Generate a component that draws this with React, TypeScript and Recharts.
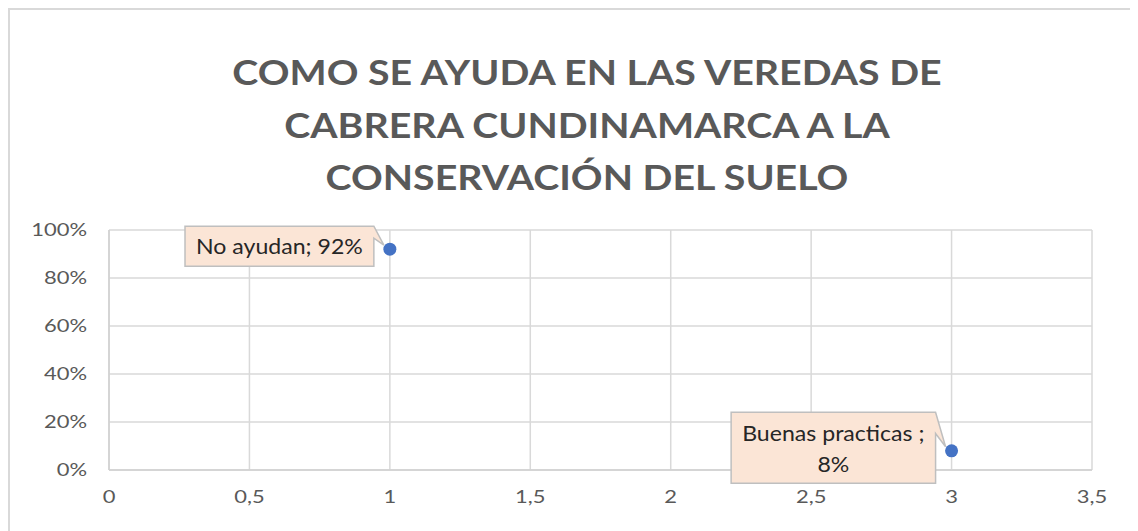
import React from 'react';
import { ScatterChart, Scatter, XAxis, YAxis, CartesianGrid } from 'recharts';

const categories = ['No ayudan', 'Buenas practicas '];
const xValues = [1, 3];
const yValues = [0.92, 0.08];
const xTicks = [0, 0.5, 1, 1.5, 2, 2.5, 3, 3.5];
const yTicks = [0, 0.2, 0.4, 0.6, 0.8, 1];
const titleLines = [
  'COMO SE AYUDA EN LAS VEREDAS DE',
  'CABRERA CUNDINAMARCA A LA',
  'CONSERVACIÓN DEL SUELO',
];

const data = categories.map((name, i) => ({ name, x: xValues[i], y: yValues[i] }));

const FONT_FAMILY = 'Lato, "Open Sans", sans-serif';
const LABEL_FONT_SIZE = 22;
const LABEL_SCALE_X = 1.05;
const TICK_FONT_SIZE = 18;
const TICK_SCALE_X = 1.22;
const TITLE_FONT_SIZE = 35;
const TITLE_SCALE_X = 1.124;
const W = 1130;
const H = 523;

let ctx: CanvasRenderingContext2D | null = null;
function measure(text: string): number {
  if (typeof document === 'undefined') return text.length * 10;
  if (!ctx) {
    const c = document.createElement('canvas');
    ctx = c.getContext('2d');
  }
  if (!ctx) return text.length * 10;
  ctx.font = `${LABEL_FONT_SIZE}px Lato`;
  return ctx.measureText(text).width * LABEL_SCALE_X;
}

const pctFmt = (v: number) => `${Math.round(v * 100)}%`;
const xFmt = (v: number) => String(v).replace('.', ',');

const Callout = (props: any) => {
  const { cx, cy, payload } = props;
  if (cx == null || cy == null) return null;
  const pct = pctFmt(payload.y);
  const full = `${payload.name}; ${pct}`;
  const maxW = 195;
  const lines = measure(full) > maxW ? [`${payload.name};`, pct] : [full];
  const textW = Math.max(...lines.map(measure));
  const padX = 11;
  const lineH = 31;
  const padY = 4.5;
  const w = textW + 2 * padX;
  const h = lines.length * lineH + 2 * padY;
  const right = cx - 16;
  const left = right - w;
  const top = cy - 3 - h / 2;
  const bottom = top + h;
  const tipX = cx - 6;
  const tipY = cy - 4;
  const back = top + h * 0.3;
  const path = `M${left},${top} H${right} L${tipX},${tipY} L${right},${back} V${bottom} H${left} Z`;
  const midX = (left + right) / 2;
  return (
    <g>
      <path d={path} fill="#FBE5D6" stroke="#BFBFBF" strokeWidth={1.5} />
      {lines.map((l, i) => (
        <text
          key={i}
          transform={`translate(${midX},${top + padY + lineH * i + lineH / 2}) scale(${LABEL_SCALE_X},1)`}
          x={0}
          y={0}
          textAnchor="middle"
          dominantBaseline="central"
          fontFamily={FONT_FAMILY}
          fontSize={LABEL_FONT_SIZE}
          fill="#262626"
        >
          {l}
        </text>
      ))}
      <circle cx={cx} cy={cy} r={6.5} fill="#4472C4" />
    </g>
  );
};

const XTick = (props: any) => {
  const { x, y, payload } = props;
  return (
    <text
      transform={`translate(${x},${y}) scale(${TICK_SCALE_X},1)`}
      x={0}
      y={0}
      dy="0.71em"
      textAnchor="middle"
      fontFamily={FONT_FAMILY}
      fontSize={TICK_FONT_SIZE}
      fill="#595959"
    >
      {xFmt(payload.value)}
    </text>
  );
};

const YTick = (props: any) => {
  const { x, y, payload } = props;
  return (
    <text
      transform={`translate(${x},${y}) scale(${TICK_SCALE_X},1)`}
      x={0}
      y={0}
      dy="0.36em"
      textAnchor="end"
      fontFamily={FONT_FAMILY}
      fontSize={TICK_FONT_SIZE}
      fill="#595959"
    >
      {pctFmt(payload.value)}
    </text>
  );
};

export default function App() {
  return (
    <div
      style={{
        position: 'relative',
        width: W,
        height: H,
        borderTop: '2px solid #D9D9D9',
        borderLeft: '2px solid #D9D9D9',
        boxSizing: 'border-box',
        background: '#fff',
      }}
    >
      <svg
        width={W}
        height={200}
        style={{ position: 'absolute', left: -2, top: -2 }}
      >
        {titleLines.map((t, i) => (
          <text
            key={i}
            transform={`translate(579,${77 + i * 52.5}) scale(${TITLE_SCALE_X},1)`}
            x={0}
            y={0}
            textAnchor="middle"
            fontFamily={FONT_FAMILY}
            fontWeight="bold"
            fontSize={TITLE_FONT_SIZE}
            fill="#595959"
          >
            {t}
          </text>
        ))}
      </svg>
      <div style={{ position: 'absolute', left: -2, top: -2 }}>
        <ScatterChart
          width={W}
          height={H}
          margin={{ top: 222, right: 46, bottom: 31, left: 41 }}
        >
          <CartesianGrid stroke="#D9D9D9" strokeWidth={1.5} />
          <XAxis
            type="number"
            dataKey="x"
            domain={[0, 3.5]}
            ticks={xTicks}
            interval={0}
            axisLine={{ stroke: '#D0D0D0', strokeWidth: 1.5 }}
            tickLine={false}
            tickSize={0}
            tickMargin={20}
            height={30}
            tick={<XTick />}
          />
          <YAxis
            type="number"
            dataKey="y"
            domain={[0, 1]}
            ticks={yTicks}
            interval={0}
            axisLine={{ stroke: '#D0D0D0', strokeWidth: 1.5 }}
            tickLine={false}
            tickSize={0}
            tickMargin={22}
            width={60}
            tick={<YTick />}
          />
          <Scatter data={data} shape={Callout} isAnimationActive={false} />
        </ScatterChart>
      </div>
    </div>
  );
}
